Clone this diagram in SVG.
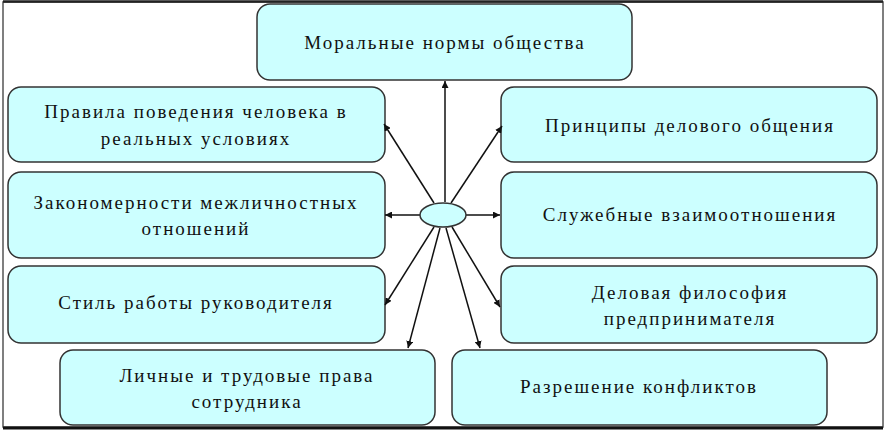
<svg xmlns="http://www.w3.org/2000/svg" width="887" height="430" viewBox="0 0 887 430">
<style>
.box{fill:#ccffff;stroke:#333;stroke-width:1.5}
.t{font-family:"Liberation Serif","Times New Roman",serif;font-size:19px;letter-spacing:2px;fill:#111;text-anchor:middle}
.c line{stroke:#111;stroke-width:1.5;marker-end:url(#ah)}
</style>
<defs>
<marker id="ah" viewBox="0 0 10 10" refX="10" refY="5" markerWidth="7" markerHeight="7" markerUnits="userSpaceOnUse" orient="auto">
<path d="M0,0L10,5L0,10z" fill="#111"/>
</marker>
</defs>
<rect x="0" y="0" width="887" height="430" fill="#fff"/>
<rect x="3" y="2" width="880" height="425" fill="none" stroke="#555" stroke-width="1.5"/>
<line x1="3" y1="1.5" x2="883" y2="1.5" stroke="#222" stroke-width="2.5"/>
<line x1="3" y1="428" x2="883" y2="428" stroke="#111" stroke-width="3"/>
<g id="n-top"><rect class="box" x="257" y="4" width="375" height="76" rx="13"/><text class="t" x="445" y="49">Моральные нормы общества</text></g>
<g id="n-l1"><rect class="box" x="8" y="87" width="377" height="75" rx="13"/><text class="t" x="196" y="118">Правила поведения человека в</text><text class="t" x="196" y="145">реальных условиях</text></g>
<g id="n-l2"><rect class="box" x="8" y="172" width="377" height="86" rx="13"/><text class="t" x="196" y="209">Закономерности межличностных</text><text class="t" x="196" y="235">отношений</text></g>
<g id="n-l3"><rect class="box" x="8" y="266" width="377" height="77" rx="13"/><text class="t" x="196" y="309">Стиль работы руководителя</text></g>
<g id="n-bl"><rect class="box" x="60" y="350" width="375" height="75" rx="13"/><text class="t" x="247" y="382">Личные и трудовые права</text><text class="t" x="247" y="408">сотрудника</text></g>
<g id="n-r1"><rect class="box" x="501" y="87" width="376" height="75" rx="13"/><text class="t" x="690" y="132">Принципы делового общения</text></g>
<g id="n-r2"><rect class="box" x="501" y="172" width="376" height="86" rx="13"/><text class="t" x="690" y="221">Служебные взаимоотношения</text></g>
<g id="n-r3"><rect class="box" x="501" y="266" width="376" height="77" rx="13"/><text class="t" x="690" y="299">Деловая философия</text><text class="t" x="690" y="325">предпринимателя</text></g>
<g id="n-br"><rect class="box" x="452" y="350" width="375" height="75" rx="13"/><text class="t" x="639" y="393">Разрешение конфликтов</text></g>
<g id="connectors" class="c">
<line x1="445" y1="202" x2="445" y2="81"/>
<line x1="434" y1="203" x2="384" y2="124"/>
<line x1="451" y1="203" x2="502" y2="126"/>
<line x1="420" y1="215" x2="385" y2="215"/>
<line x1="466" y1="215" x2="500" y2="215"/>
<line x1="434" y1="227" x2="385" y2="305"/>
<line x1="452" y1="227" x2="500" y2="307"/>
<line x1="440" y1="228" x2="408" y2="348"/>
<line x1="446" y1="228" x2="480" y2="348"/>
</g>
<g id="n-hub"><ellipse cx="443" cy="215" rx="23" ry="12" class="box"/></g>
</svg>
